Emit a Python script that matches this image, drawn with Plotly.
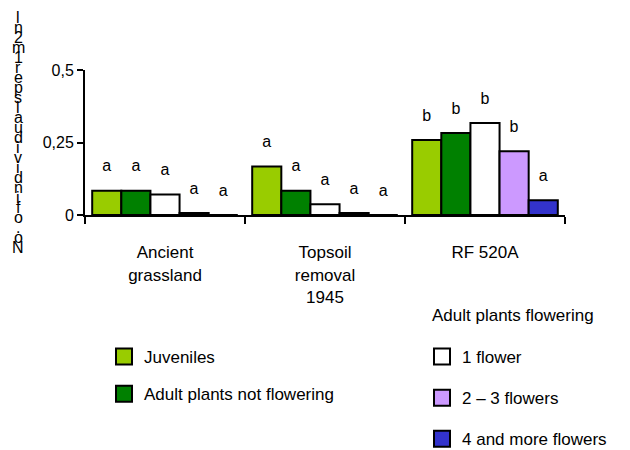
import plotly.graph_objects as go

# ---------------- data ----------------
categories = ["Ancient<br>grassland", "Topsoil<br>removal<br>1945", "RF 520A"]
series_names = ["Juveniles", "Adult plants not flowering", "1 flower",
                "2 – 3 flowers", "4 and more flowers"]
juveniles = [0.084, 0.167, 0.259]
adult_not_flowering = [0.084, 0.084, 0.283]
one_flower = [0.071, 0.037, 0.317]
two_three_flowers = [0.007, 0.007, 0.220]
four_more_flowers = [0.0, 0.0, 0.051]
letters_juveniles = ["a", "a", "b"]
letters_adult_nf = ["a", "a", "b"]
letters_one = ["a", "a", "b"]
letters_two_three = ["a", "a", "b"]
letters_four = ["a", "a", "a"]
y_tick_vals = [0, 0.25, 0.5]
y_tick_text = ["0", "0,25", "0,5"]
y_title_chars = ["l", "n", "2", "m", "1", "r", "e", "p", "s", "l", "a", "u",
                 "d", "i", "v", "i", "d", "n", "i", "f", "o", ".", "o", "N"]
legend_title_right = "Adult plants flowering"

series_values = [juveniles, adult_not_flowering, one_flower,
                 two_three_flowers, four_more_flowers]
series_letters = [letters_juveniles, letters_adult_nf, letters_one,
                  letters_two_three, letters_four]
colors = ["#99CC00", "#008000", "#FFFFFF", "#CC99FF", "#3333CC"]
legend_ids = ["legend", "legend", "legend2", "legend2", "legend2"]

FONT = "Liberation Sans, Arial, sans-serif"
W, H = 630, 450
PAGE_OFF = 8  # default body margin of the html page
PW, PH = 480, 145
ML = 85 - PAGE_OFF
MT = 70 - PAGE_OFF
MR = W - ML - PW
MB = H - MT - PH


def px(x):
    """reference-picture x pixel -> paper coordinate"""
    return (x - PAGE_OFF - ML) / PW


def py(y):
    """reference-picture y pixel -> paper coordinate"""
    return (MT + PH - (y - PAGE_OFF)) / PH


fig = go.Figure()

for name, vals, lets, col in zip(series_names, series_values, series_letters, colors):
    fig.add_trace(go.Bar(
        x=categories, y=vals, name=name,
        marker=dict(color=col, line=dict(color="black", width=2)),
        text=["<span style='font-size:16px'>%s</span><br>\u00a0" % t for t in lets],
        textposition="outside", cliponaxis=False, constraintext="none",
        textfont=dict(family=FONT, size=11, color="black"),
        showlegend=False, hoverinfo="skip",
    ))

# legend entries (square swatches)
for name, col, lg in zip(series_names, colors, legend_ids):
    fig.add_trace(go.Scatter(
        x=[None], y=[None], mode="markers", name=name,
        marker=dict(symbol="square", size=20, color=col,
                    line=dict(color="black", width=2)),
        legend=lg, legendgroup=name, showlegend=True,
    ))

# stacked y-axis title characters
n = len(y_title_chars)
top_y, bot_y = 18, 247
for i, ch in enumerate(y_title_chars):
    yy = top_y + (bot_y - top_y) * i / (n - 1)
    fig.add_annotation(
        text=ch, x=px(18), y=py(yy), xref="paper", yref="paper",
        showarrow=False, xanchor="center", yanchor="middle",
        font=dict(family=FONT, size=16, color="black"),
    )

# heading of the right-hand legend block
fig.add_annotation(
    text=legend_title_right, x=px(430), y=py(315), xref="paper", yref="paper",
    showarrow=False, xanchor="left", yanchor="middle",
    font=dict(family=FONT, size=17, color="black"),
)

fig.update_layout(
    width=W, height=H,
    margin=dict(l=ML, r=MR, t=MT, b=MB, pad=0, autoexpand=False),
    paper_bgcolor="white", plot_bgcolor="white",
    barmode="group", bargap=0.09, bargroupgap=0,
    font=dict(family=FONT, color="black"),
    legend=dict(
        x=px(104), y=py(339), xanchor="left", yanchor="top",
        font=dict(family=FONT, size=17, color="black"),
        bgcolor="rgba(0,0,0,0)", borderwidth=0,
        tracegroupgap=12, traceorder="grouped",
    ),
    legend2=dict(
        x=px(422), y=py(339), xanchor="left", yanchor="top",
        font=dict(family=FONT, size=17, color="black"),
        bgcolor="rgba(0,0,0,0)", borderwidth=0,
        tracegroupgap=16, traceorder="grouped",
    ),
)

fig.update_xaxes(
    type="category", showline=True, linecolor="black", linewidth=2,
    ticks="outside", tickson="boundaries", ticklen=7, tickwidth=2, tickcolor="black",
    tickfont=dict(family=FONT, size=17, color="black"), ticklabelstandoff=21,
    showgrid=False, zeroline=False, fixedrange=True,
)
fig.update_yaxes(
    range=[0, 0.5], showline=True, linecolor="black", linewidth=2,
    tickvals=y_tick_vals, ticktext=y_tick_text,
    ticks="outside", ticklen=6, tickwidth=2, tickcolor="black",
    tickfont=dict(family=FONT, size=16, color="black"),
    showgrid=False, zeroline=False, fixedrange=True,
)

fig.write_html("out.html")
